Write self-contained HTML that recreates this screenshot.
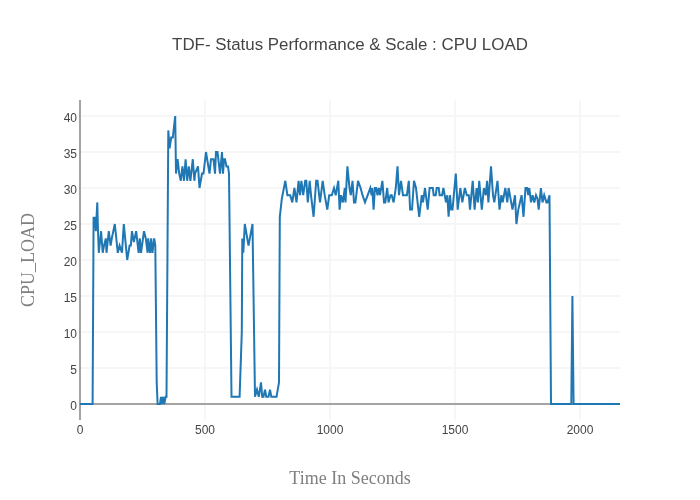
<!DOCTYPE html>
<html><head><meta charset="utf-8"><style>
html,body{margin:0;padding:0;background:#fff;width:700px;height:500px;overflow:hidden}
svg{display:block;will-change:transform}
</style></head><body>
<svg width="700" height="500" viewBox="0 0 700 500">
<rect width="700" height="500" fill="#fff"/>
<g stroke="#f6f6f6" stroke-width="2">
<line x1="80" x2="620" y1="368.0" y2="368.0"/><line x1="80" x2="620" y1="332.0" y2="332.0"/><line x1="80" x2="620" y1="296.0" y2="296.0"/><line x1="80" x2="620" y1="260.0" y2="260.0"/><line x1="80" x2="620" y1="224.0" y2="224.0"/><line x1="80" x2="620" y1="188.0" y2="188.0"/><line x1="80" x2="620" y1="152.0" y2="152.0"/><line x1="80" x2="620" y1="116.0" y2="116.0"/><line x1="205.0" x2="205.0" y1="100" y2="420"/><line x1="330.0" x2="330.0" y1="100" y2="420"/><line x1="455.0" x2="455.0" y1="100" y2="420"/><line x1="580.0" x2="580.0" y1="100" y2="420"/>
</g>
<line x1="80" x2="620" y1="404" y2="404" stroke="#a3a3a3" stroke-width="2"/>
<line x1="80" x2="80" y1="100" y2="420" stroke="#a3a3a3" stroke-width="2"/>
<path d="M80,404.0 L92.6,404.0 L93.6,216.8 L94.2,224.0 L95,216.8 L95.8,231.2 L97.3,202.4 L98,231.2 L98.8,252.8 L101.1,231.2 L102.7,252.8 L104,245.6 L105.8,238.4 L106.5,252.8 L108.8,231.2 L110.6,245.6 L111.8,238.4 L114.8,224.0 L117.8,252.8 L119.6,245.6 L122,252.8 L123.8,224.0 L127.2,260.0 L129.6,245.6 L130.8,245.6 L132,231.2 L133.8,242.0 L136.2,231.2 L138.6,252.8 L139.8,238.4 L141,252.8 L144,231.2 L145.8,238.4 L147.6,252.8 L148.2,238.4 L150,252.8 L151.2,238.4 L152.4,252.8 L154.2,238.4 L155.3,245.6 L156.7,382.4 L157.6,404.0 L160,404.0 L161,396.8 L162,404.0 L163.3,396.8 L164.3,404.0 L165.6,396.8 L166.5,396.8 L168.3,130.4 L169.6,148.4 L171.2,137.6 L172.8,137.6 L175.2,116.0 L176,173.6 L177.6,159.2 L179.2,173.6 L180.8,180.8 L182.4,166.4 L184,180.8 L185.6,159.2 L187.2,180.8 L188.8,166.4 L190.4,180.8 L192.8,159.2 L194.4,180.8 L195,173.6 L198,166.4 L199.5,188.0 L202,173.6 L203.5,173.6 L206,152.0 L209.5,173.6 L211,159.2 L212.5,159.2 L213.5,159.2 L215,173.6 L216,152.0 L217.5,152.0 L220,173.6 L222,152.0 L223,173.6 L224,159.2 L225,159.2 L226.5,166.4 L228,166.4 L229,173.6 L231.5,396.8 L239.6,396.8 L241.8,332.0 L242.3,238.4 L243.3,252.8 L244.8,224.0 L248.5,245.6 L252.5,224.0 L255,396.8 L257,389.6 L258.8,396.8 L261,382.4 L262.2,396.8 L263.5,396.8 L265,389.6 L266.3,396.8 L268.5,396.8 L270,389.6 L271.3,396.8 L276.5,396.8 L279,382.4 L279.8,216.8 L281.8,198.8 L285.3,180.8 L287.4,195.2 L290.2,195.2 L292.3,202.4 L294.4,188.0 L296.5,202.4 L298.6,180.8 L300,195.2 L301.4,180.8 L303.2,195.2 L305.2,180.8 L306.3,180.8 L307.8,202.4 L309.7,180.8 L311,195.2 L313.6,216.8 L316.2,180.8 L317.5,180.8 L320,202.4 L322.7,180.8 L324.7,195.2 L327.3,209.6 L329.2,195.2 L331.8,195.2 L334,188.0 L335.7,195.2 L338.3,180.8 L339.6,209.6 L341,195.2 L342.9,202.4 L344.8,188.0 L345.5,202.4 L347.4,166.4 L349.5,188.0 L350.8,195.2 L352.5,180.8 L354,202.4 L355.4,202.4 L358,180.8 L360.6,188.0 L362.5,195.2 L365,202.4 L367.7,195.2 L370.3,188.0 L371.6,195.2 L372.3,188.0 L373.6,209.6 L374.9,188.0 L376.2,188.0 L377.5,195.2 L378.8,188.0 L380,195.2 L382.4,180.8 L384,202.4 L385.3,202.4 L387.2,188.0 L388.5,202.4 L390.5,195.2 L391.7,195.2 L393.6,202.4 L395.8,188.0 L397.5,166.4 L399,195.2 L401,180.8 L403,195.2 L406.9,195.2 L408.8,180.8 L410.1,209.6 L412,209.6 L414,180.8 L416,188.0 L419.2,216.8 L421.8,195.2 L423,202.4 L425,188.0 L427.7,209.6 L429.6,188.0 L432.8,188.0 L433.7,195.2 L435.7,195.2 L436.7,188.0 L438.7,188.0 L439.6,195.2 L442.1,195.2 L443.4,188.0 L446,202.4 L447.3,195.2 L448.6,216.8 L450,195.2 L451.2,209.6 L452.5,209.6 L455.8,173.6 L457.7,209.6 L460.3,188.0 L462.3,202.4 L464.9,188.0 L466.8,195.2 L468.8,195.2 L470,209.6 L472.7,180.8 L474.6,209.6 L476.6,188.0 L477.9,202.4 L479.2,180.8 L481.8,209.6 L483.9,188.0 L485.8,195.2 L487.1,180.8 L488.4,202.4 L491,166.4 L493,195.2 L494.3,202.4 L497.5,180.8 L499.5,209.6 L501.4,195.2 L502.7,202.4 L505.3,188.0 L507.3,202.4 L508.6,188.0 L512.5,209.6 L515,195.2 L516.4,224.0 L518.3,209.6 L521.6,195.2 L523.5,216.8 L525.5,188.0 L527.1,188.0 L528.2,195.2 L529.3,188.0 L531,202.4 L532.6,195.2 L534.3,202.4 L536,195.2 L537.5,198.8 L538.7,209.6 L540.9,188.0 L542.5,202.4 L544.2,195.2 L546.4,202.4 L547.5,202.4 L549.5,195.2 L551,404.0 L571.3,404.0 L572.4,296.0 L573.6,404.0 L620,404.0" fill="none" stroke="#1f77b4" stroke-width="2" />
<g font-family="Liberation Sans, sans-serif" font-size="12" fill="#444">
<text x="77" y="410.1" text-anchor="end">0</text><text x="77" y="374.1" text-anchor="end">5</text><text x="77" y="338.1" text-anchor="end">10</text><text x="77" y="302.1" text-anchor="end">15</text><text x="77" y="266.1" text-anchor="end">20</text><text x="77" y="230.1" text-anchor="end">25</text><text x="77" y="194.1" text-anchor="end">30</text><text x="77" y="158.1" text-anchor="end">35</text><text x="77" y="122.1" text-anchor="end">40</text>
<text x="80.0" y="434" text-anchor="middle">0</text><text x="205.0" y="434" text-anchor="middle">500</text><text x="330.0" y="434" text-anchor="middle">1000</text><text x="455.0" y="434" text-anchor="middle">1500</text><text x="580.0" y="434" text-anchor="middle">2000</text>
</g>
<text x="350" y="50" text-anchor="middle" font-family="Liberation Sans, sans-serif" font-size="16.9" fill="#444">TDF- Status Performance &amp; Scale : CPU LOAD</text>
<text x="350" y="484" text-anchor="middle" font-family="Liberation Serif, serif" font-size="18" fill="#7f7f7f">Time In Seconds</text>
<text x="34" y="260" text-anchor="middle" transform="rotate(-90 34 260)" font-family="Liberation Serif, serif" font-size="18" fill="#7f7f7f">CPU_LOAD</text>
</svg>
</body></html>
